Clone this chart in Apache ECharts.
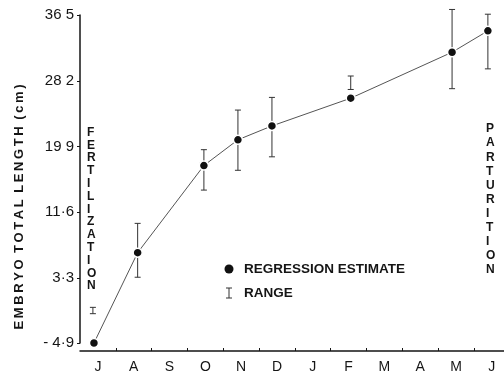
<!DOCTYPE html>
<html>
<head>
<meta charset="utf-8">
<script src="https://cdn.jsdelivr.net/npm/echarts@6/dist/echarts.min.js"></script>
<style>html,body{margin:0;padding:0;background:#fff}#c{width:504px;height:374px}</style>
</head>
<body>
<div id="c"></div>
<script>
// ---- data ----
const monthLabels = ['J','A','S','O','N','D','J','F','M','A','M','J'];
const monthLabelPos = [0.5,1.5,2.5,3.5,4.5,5.5,6.5,7.5,8.5,9.5,10.5,11.5];
const monthTickPos = [1,2,3,4,5,6,7,8,9,10,11];
const pointX = [0.39,1.61,3.46,4.41,5.36,7.56,10.39,11.39];
const estimate = [-4.9,6.5,17.5,20.75,22.5,26.0,31.8,34.5];
const rangeX = [0.36,1.61,3.46,4.41,5.36,7.56,10.39,11.39];
const rangeLow = [-1.2,3.4,14.4,16.9,18.6,27.1,27.2,29.7];
const rangeHigh = [-0.4,10.2,19.5,24.5,26.1,28.8,37.2,36.6];
const yTickValues = [-4.9,3.3,11.6,19.9,28.2,36.5];
const yTickLabels = ['- 4·9','3·3','11·6','19 9','28 2','36 5'];
const yTitle = 'EMBRYO TOTAL LENGTH (cm)';
const leftNote = 'FERTILIZATION';
const rightNote = 'PARTURITION';
const legendNames = ['REGRESSION ESTIMATE', 'RANGE'];

const font = 'Liberation Sans, Arial, sans-serif';
const ink = '#151515';
// spaced-out lettering (thin spaces between letters, wider gap between words)
const spaced = s => s.split(' ').map(w => w.split('').join('\u2009')).join('\u2002');

const chart = echarts.init(document.getElementById('c'));
chart.setOption({
  animation: false,
  backgroundColor: '#fff',
  grid: { left: 80, right: 0, top: 15, bottom: 23 },
  xAxis: {
    type: 'value', min: 0, max: 11.84, offset: 8,
    axisLine: { show: true, onZero: false, lineStyle: { color: ink, width: 1.5 } },
    axisTick: { show: true, customValues: monthTickPos, length: 3, inside: true, lineStyle: { color: ink, width: 1 } },
    axisLabel: {
      customValues: monthLabelPos, margin: 9, color: ink, fontFamily: font, fontSize: 14,
      formatter: v => monthLabels[Math.round(v - 0.5)]
    },
    splitLine: { show: false }
  },
  yAxis: {
    type: 'value', min: -4.9, max: 36.5,
    axisLine: { show: true, onZero: false, lineStyle: { color: ink, width: 1.5 } },
    axisTick: { show: true, customValues: yTickValues, length: 3, lineStyle: { color: ink, width: 1 } },
    axisLabel: {
      customValues: yTickValues, margin: 6, color: ink, fontFamily: font, fontSize: 15,
      formatter: v => yTickLabels[yTickValues.indexOf(v)]
    },
    splitLine: { show: false }
  },
  series: [
    {
      name: legendNames[1], type: 'custom', clip: false, z: 2,
      data: rangeX.map((x, i) => [x, rangeLow[i], rangeHigh[i]]),
      itemStyle: { color: '#333' },
      renderItem: (params, api) => {
        const lo = api.coord([api.value(0), api.value(1)]);
        const hi = api.coord([api.value(0), api.value(2)]);
        const w = 3;
        const st = { stroke: '#333', lineWidth: 1 };
        return { type: 'group', children: [
          { type: 'line', shape: { x1: lo[0], y1: lo[1], x2: hi[0], y2: hi[1] }, style: st },
          { type: 'line', shape: { x1: lo[0]-w, y1: lo[1], x2: lo[0]+w, y2: lo[1] }, style: st },
          { type: 'line', shape: { x1: hi[0]-w, y1: hi[1], x2: hi[0]+w, y2: hi[1] }, style: st }
        ]};
      }
    },
    {
      name: legendNames[0], type: 'line', z: 3, clip: false,
      data: pointX.map((x, i) => [x, estimate[i]]),
      symbol: 'circle', symbolSize: 9,
      lineStyle: { color: '#555', width: 1 },
      itemStyle: { color: '#111', borderColor: '#fff', borderWidth: 1.5 }
    }
  ],
  graphic: [
    { type: 'text', x: 19, y: 207, rotation: Math.PI / 2, style: {
      text: spaced(yTitle), fill: ink, font: 'bold 13px ' + font,
      align: 'center', verticalAlign: 'middle' } },
    { type: 'text', left: 87, top: 126, style: {
      text: leftNote.split('').join('\n'), fill: ink, font: 'bold 12px ' + font,
      lineHeight: 12.8, align: 'center', width: 12 } },
    { type: 'text', left: 486, top: 122, style: {
      text: rightNote.split('').join('\n'), fill: ink, font: 'bold 12px ' + font,
      lineHeight: 14.1, align: 'center', width: 12 } },
    // legend
    { type: 'circle', shape: { cx: 229, cy: 269, r: 4.5 }, style: { fill: '#111' } },
    { type: 'text', x: 244, y: 269, style: {
      text: legendNames[0], fill: ink, font: 'bold 13.5px ' + font, verticalAlign: 'middle' } },
    { type: 'group', children: [
      { type: 'line', shape: { x1: 229, y1: 288, x2: 229, y2: 298 }, style: { stroke: '#333', lineWidth: 1 } },
      { type: 'line', shape: { x1: 226, y1: 288, x2: 232, y2: 288 }, style: { stroke: '#333', lineWidth: 1 } },
      { type: 'line', shape: { x1: 226, y1: 298, x2: 232, y2: 298 }, style: { stroke: '#333', lineWidth: 1 } }
    ] },
    { type: 'text', x: 244, y: 293, style: {
      text: legendNames[1], fill: ink, font: 'bold 13.5px ' + font, verticalAlign: 'middle' } }
  ]
});
</script>
</body>
</html>
